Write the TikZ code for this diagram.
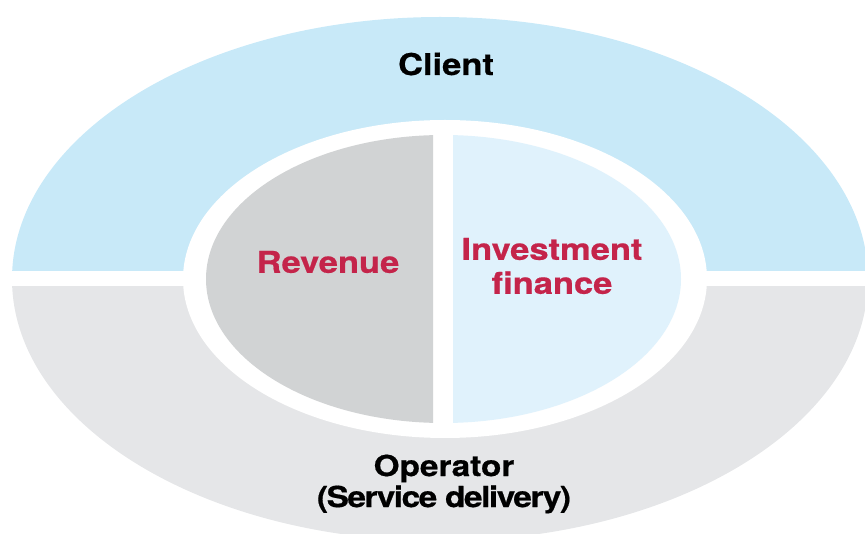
\documentclass[tikz,border=0pt]{standalone}
\usepackage{fontspec}
\newfontfamily\hv{TeX Gyre Heros}[FakeStretch=1.15, FakeBold=0.6]
\definecolor{outerblue}{HTML}{C8E9F8}
\definecolor{outergray}{HTML}{E5E6E8}
\definecolor{innergray}{HTML}{D1D3D4}
\definecolor{innerblue}{HTML}{E0F2FC}
\definecolor{labelred}{HTML}{C4244A}
\tikzset{
  blacklabel/.style={font=\hv\bfseries\fontsize{30}{28}\selectfont, text=black, align=center, inner sep=0pt},
  redlabel/.style={font=\hv\bfseries\fontsize{30}{34}\selectfont, text=labelred, align=center, inner sep=0pt},
}
\begin{document}
\begin{tikzpicture}[x=1pt,y=-1pt]
\useasboundingbox (0,0) rectangle (865,534);
\clip (0,0) rectangle (865,534);
% outer ring
\begin{scope}
  \clip (-10,-10) rectangle (900,271);
  \fill[outerblue] (440,279) ellipse [x radius=428, y radius=262];
\end{scope}
\begin{scope}
  \clip (-10,287) rectangle (900,560);
  \fill[outergray] (440,279) ellipse [x radius=428, y radius=262];
\end{scope}
% white ring
\fill[white] (445,279) ellipse [x radius=262, y radius=159];
% inner halves
\begin{scope}
  \clip (0,0) rectangle (433,534);
  \fill[innergray] (443.5,279) ellipse [x radius=237.5, y radius=144];
\end{scope}
\begin{scope}
  \clip (453,0) rectangle (865,534);
  \fill[innerblue] (443.5,279) ellipse [x radius=237.5, y radius=144];
\end{scope}
% labels
\node[blacklabel] (client) at (446,64) {Client};
\node[redlabel] (revenue) at (328,262) {Revenue};
\node[redlabel] (invest) at (552,266) {Investment\\finance};
\node[blacklabel, font=\hv\bfseries\fontsize{29}{31}\selectfont] (operator) at (444,484) {Operator\\{\addfontfeature{LetterSpace=-5}(Service delivery)}};
\end{tikzpicture}
\end{document}
